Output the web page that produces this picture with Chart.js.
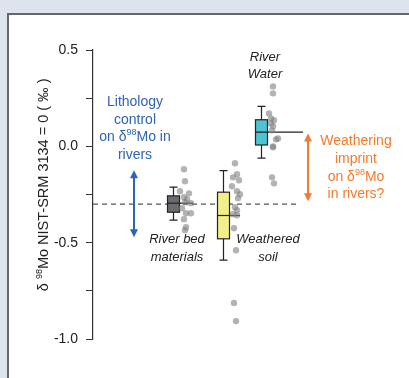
<!DOCTYPE html>
<html lang="en">

<head>
    <meta charset="UTF-8">
    <title>Mo isotopes in rivers</title>
    <script src="https://cdn.jsdelivr.net/npm/chart.js@4.4.1/dist/chart.umd.min.js"></script>
    <style>
        body { margin: 0; background: #dde4ee; width: 409px; height: 378px; overflow: hidden; position: relative; }
        #panel { position: absolute; left: 7px; top: 13px; width: 420px; height: 380px; background: #fff;
                 border-left: 2px solid #666; border-top: 2px solid #666; }
        #myChart { position: absolute; left: 0; top: 0; }
    </style>
</head>

<body>
    <div id="panel"></div>
    <canvas id="myChart" width="409" height="378"></canvas>

    <script>
        // Groups and where they sit on the (hidden) x axis
        var groups = ["River bed materials", "Weathered soil", "River water"];
        var groupPos = [1, 2, 2.76];

        // Box plot summary, delta98Mo (permil)
        var boxMin = [-0.383, -0.591, -0.061];
        var boxQ1 = [-0.342, -0.480, 0.007];
        var boxMedian = [-0.295, -0.359, 0.074];
        var boxQ3 = [-0.257, -0.238, 0.138];
        var boxMax = [-0.212, -0.126, 0.207];

        // Individual samples
        var bedValues = [-0.119, -0.181, -0.233, -0.244, -0.264, -0.275, -0.290, -0.295, -0.321, -0.347, -0.347, -0.378, -0.420, -0.435];
        var bedJitter = [0.22, 0.24, 0.14, 0.32, 0.22, 0.28, 0.24, 0.36, 0.18, 0.26, 0.36, 0.22, 0.26, 0.24];
        var soilValues = [-0.088, -0.145, -0.161, -0.176, -0.207, -0.233, -0.249, -0.269, -0.316, -0.332, -0.352, -0.358, -0.425, -0.539, -0.813, -0.907];
        var soilJitter = [0.24, 0.28, 0.20, 0.32, 0.18, 0.28, 0.34, 0.30, 0.24, 0.28, 0.20, 0.28, 0.22, 0.26, 0.22, 0.26];
        var waterValues = [0.311, 0.275, 0.171, 0.145, 0.135, 0.119, 0.104, 0.083, 0.041, 0.036, 0.000, -0.005, -0.161, -0.192];
        var waterJitter = [0.24, 0.24, 0.16, 0.20, 0.26, 0.20, 0.24, 0.22, 0.34, 0.30, 0.24, 0.24, 0.22, 0.26];

        // Reference level (dashed line)
        var referenceLevel = -0.3;

        // Axis ticks
        var yTicks = [0.5, 0.0, -0.5, -1.0];

        // Styling
        var boxColors = ["#6b6c6f", "#f2ef8a", "#4dc3d3"];
        var medianReach = [0.40, 0.34, 0.84];
        var blue = "#2f63b6";
        var orange = "#f27b2c";

        function pointsFor(values, jitter, g) {
            return values.map(function (v, i) {
                return { x: groupPos[g] + jitter[i], y: v };
            });
        }

        // Draw text made of pieces, some of them superscript, centred on (cx, cy)
        function drawRich(ctx, parts, cx, cy, size, color, style) {
            var big = style + " " + size + "px 'Liberation Sans', Arial, sans-serif";
            var small = style + " " + Math.round(size * 0.62) + "px 'Liberation Sans', Arial, sans-serif";
            var total = 0;
            parts.forEach(function (p) {
                ctx.font = p.sup ? small : big;
                p.w = ctx.measureText(p.t).width;
                total += p.w;
            });
            var x = cx - total / 2;
            ctx.fillStyle = color;
            ctx.textAlign = "left";
            ctx.textBaseline = "middle";
            parts.forEach(function (p) {
                ctx.font = p.sup ? small : big;
                ctx.fillText(p.t, x, p.sup ? cy - size * 0.32 : cy);
                x += p.w;
            });
        }

        function drawArrow(ctx, x, yTop, yBottom, color) {
            var head = 8, half = 4;
            ctx.strokeStyle = color;
            ctx.fillStyle = color;
            ctx.lineWidth = 2;
            ctx.beginPath();
            ctx.moveTo(x, yTop + head - 1);
            ctx.lineTo(x, yBottom - head + 1);
            ctx.stroke();
            ctx.beginPath();
            ctx.moveTo(x, yTop);
            ctx.lineTo(x - half, yTop + head);
            ctx.lineTo(x + half, yTop + head);
            ctx.closePath();
            ctx.fill();
            ctx.beginPath();
            ctx.moveTo(x, yBottom);
            ctx.lineTo(x - half, yBottom - head);
            ctx.lineTo(x + half, yBottom - head);
            ctx.closePath();
            ctx.fill();
        }

        var boxPlugin = {
            id: "boxes",
            beforeDatasetsDraw: function (chart) {
                var ctx = chart.ctx, xs = chart.scales.x, ys = chart.scales.y;
                ctx.save();

                // dashed reference line
                ctx.setLineDash([5, 4]);
                ctx.strokeStyle = "#555";
                ctx.lineWidth = 1.2;
                ctx.beginPath();
                ctx.moveTo(chart.chartArea.left, ys.getPixelForValue(referenceLevel));
                ctx.lineTo(xs.getPixelForValue(3.54), ys.getPixelForValue(referenceLevel));
                ctx.stroke();
                ctx.setLineDash([]);

                // box plots
                for (var i = 0; i < groups.length; i++) {
                    var cx = Math.round(xs.getPixelForValue(groupPos[i])) + 0.5;
                    var half = 6, cap = 4;
                    var yMin = ys.getPixelForValue(boxMin[i]);
                    var yMax = ys.getPixelForValue(boxMax[i]);
                    var y1 = ys.getPixelForValue(boxQ1[i]);
                    var y3 = ys.getPixelForValue(boxQ3[i]);
                    var ym = ys.getPixelForValue(boxMedian[i]);
                    ctx.strokeStyle = "#222";
                    ctx.lineWidth = 1.2;
                    ctx.beginPath();
                    ctx.moveTo(cx, yMin); ctx.lineTo(cx, yMax);
                    ctx.moveTo(cx - cap, yMin); ctx.lineTo(cx + cap, yMin);
                    ctx.moveTo(cx - cap, yMax); ctx.lineTo(cx + cap, yMax);
                    ctx.stroke();
                    ctx.fillStyle = boxColors[i];
                    ctx.fillRect(cx - half, y3, half * 2, y1 - y3);
                    ctx.strokeRect(cx - half, y3, half * 2, y1 - y3);
                    ctx.beginPath();
                    ctx.moveTo(cx - half, ym);
                    ctx.lineTo(xs.getPixelForValue(groupPos[i] + medianReach[i]), ym);
                    ctx.stroke();
                }
                ctx.restore();
            },
            afterDatasetsDraw: function (chart) {
                var ctx = chart.ctx, xs = chart.scales.x, ys = chart.scales.y;
                ctx.save();

                // arrows
                drawArrow(ctx, xs.getPixelForValue(0.22), ys.getPixelForValue(-0.124), ys.getPixelForValue(-0.472), blue);
                drawArrow(ctx, xs.getPixelForValue(3.70), ys.getPixelForValue(0.067), ys.getPixelForValue(-0.285), orange);

                // blue label
                var bx = xs.getPixelForValue(0.24), by = ys.getPixelForValue(0.228);
                drawRich(ctx, [{ t: "Lithology" }], bx, by, 14, blue, "normal");
                drawRich(ctx, [{ t: "control" }], bx, by + 17.5, 14, blue, "normal");
                drawRich(ctx, [{ t: "on \u03b4" }, { t: "98", sup: true }, { t: "Mo in" }], bx, by + 35, 14, blue, "normal");
                drawRich(ctx, [{ t: "rivers" }], bx, by + 52.5, 14, blue, "normal");

                // orange label
                var ox = xs.getPixelForValue(4.66), oy = ys.getPixelForValue(0.026);
                drawRich(ctx, [{ t: "Weathering" }], ox, oy, 14, orange, "normal");
                drawRich(ctx, [{ t: "imprint" }], ox, oy + 17.7, 14, orange, "normal");
                drawRich(ctx, [{ t: "on \u03b4" }, { t: "98", sup: true }, { t: "Mo" }], ox, oy + 35.4, 14, orange, "normal");
                drawRich(ctx, [{ t: "in rivers?" }], ox, oy + 53.1, 14, orange, "normal");

                // group names
                var wx = xs.getPixelForValue(2.84), wy = ys.getPixelForValue(0.461);
                drawRich(ctx, [{ t: "River" }], wx, wy, 13, "#222", "italic");
                drawRich(ctx, [{ t: "Water" }], wx, wy + 17, 13, "#222", "italic");
                var rx = xs.getPixelForValue(1.08), ry = ys.getPixelForValue(-0.482);
                drawRich(ctx, [{ t: "River bed" }], rx, ry, 13, "#222", "italic");
                drawRich(ctx, [{ t: "materials" }], rx, ry + 18, 13, "#222", "italic");
                var sx = xs.getPixelForValue(2.90);
                drawRich(ctx, [{ t: "Weathered" }], sx, ry, 13, "#222", "italic");
                drawRich(ctx, [{ t: "soil" }], sx, ry + 18, 13, "#222", "italic");

                // y axis title
                ctx.translate(44, ys.getPixelForValue(-0.2));
                ctx.rotate(-Math.PI / 2);
                drawRich(ctx, [{ t: "\u03b4 " }, { t: "98", sup: true }, { t: "Mo NIST-SRM 3134 = 0 ( \u2030 )" }], 0, 0, 14.5, "#222", "normal");
                ctx.restore();
            }
        };

        var chart = new Chart(document.getElementById("myChart"), {
            type: "scatter",
            data: {
                datasets: [
                    { label: groups[0], data: pointsFor(bedValues, bedJitter, 0) },
                    { label: groups[1], data: pointsFor(soilValues, soilJitter, 1) },
                    { label: groups[2], data: pointsFor(waterValues, waterJitter, 2) }
                ]
            },
            options: {
                responsive: false,
                animation: false,
                layout: { padding: { top: 50, bottom: 39, left: 0, right: 16 } },
                elements: {
                    point: { radius: 3.2, backgroundColor: "rgba(128,128,128,0.6)", borderWidth: 0 }
                },
                plugins: {
                    legend: { display: false },
                    tooltip: { enabled: false }
                },
                scales: {
                    x: { type: "linear", display: false, min: -0.6, max: 5.4 },
                    y: {
                        min: -1.0,
                        max: 0.5,
                        afterFit: function (scale) { scale.width = 93; },
                        afterBuildTicks: function (scale) {
                            scale.ticks = [0.5, 0.25, 0, -0.25, -0.5, -0.75, -1.0].map(function (v) { return { value: v }; });
                        },
                        ticks: {
                            padding: 8,
                            color: "#222",
                            font: { size: 14, family: "'Liberation Sans', Arial, sans-serif" },
                            callback: function (v) {
                                return yTicks.indexOf(v) >= 0 ? v.toFixed(1) : "";
                            }
                        },
                        grid: { drawOnChartArea: false, drawTicks: true, tickLength: 7, color: "#333" },
                        border: { display: true, color: "#333", width: 1.2 }
                    }
                }
            },
            plugins: [boxPlugin]
        });
    </script>
</body>

</html>
